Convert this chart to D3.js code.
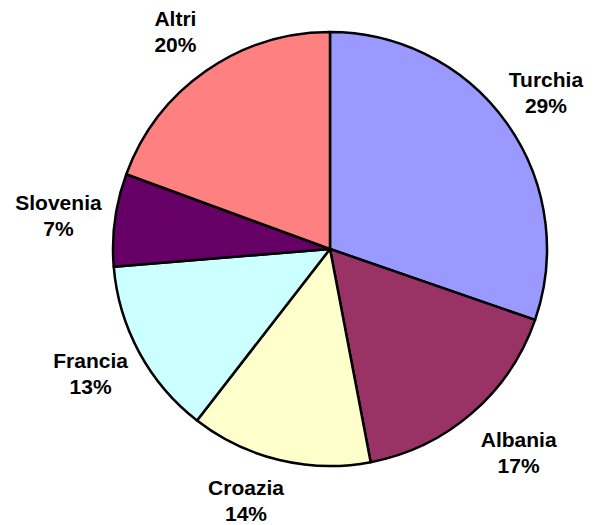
<!DOCTYPE html>
<html>
<head>
<meta charset="utf-8">
<script src="https://cdn.jsdelivr.net/npm/d3@7"></script>
<style>
  body { margin: 0; background: #fff; }
  text { font-family: "Liberation Sans", Arial, sans-serif; font-weight: bold; font-size: 21px; fill: #000; }
</style>
</head>
<body>
<svg id="chart" width="597" height="525"></svg>
<script>
// slices, clockwise from 12 o'clock
var countries = ["Turchia", "Albania", "Croazia", "Francia", "Slovenia", "Altri"];
// shares as measured from the slice angles in the picture
var shares = [30.3, 16.7, 13.5, 13.2, 6.9, 19.4];
// percentages printed on the labels
var pctLabels = ["29%", "17%", "14%", "13%", "7%", "20%"];
var colors = ["#9999ff", "#993366", "#ffffcc", "#ccffff", "#660066", "#ff8080"];

var chart = {};
chart.center = {x: 330, y: 249};
chart.radius = 217;
chart.labelRadius = 270;
// small hand nudges so labels sit where excel put them
chart.nudge = {Turchia: [-4, 0], Albania: [12, -1], Croazia: [-21, -11], Francia: [-2, -4], Slovenia: [-4, 3], Altri: [0, 4]};

function setup() {
    var rows = d3.map(countries, (d, i) => ({name: d, value: shares[i], pct: pctLabels[i], color: colors[i]}));

    var pie = d3.pie().sort(null).value(d => d.value);
    var arcs = pie(rows);

    var arc = d3.arc().innerRadius(0).outerRadius(chart.radius);
    var labelArc = d3.arc().innerRadius(chart.labelRadius).outerRadius(chart.labelRadius);

    var svg = d3.select("#chart")
                .append("g")
                .attr("transform", "translate(" + chart.center.x + "," + chart.center.y + ")");

    svg.selectAll("path")
       .data(arcs)
       .join("path")
       .attr("d", arc)
       .attr("fill", d => d.data.color)
       .attr("stroke", "#000")
       .attr("stroke-width", 2.5)
       .attr("stroke-linejoin", "round");

    var label = svg.selectAll("text")
       .data(arcs)
       .join("text")
       .attr("text-anchor", "middle")
       .attr("transform", d => {
           var c = labelArc.centroid(d), n = chart.nudge[d.data.name];
           return "translate(" + (c[0] + n[0]) + "," + (c[1] + n[1]) + ")";
       });

    label.append("tspan")
         .attr("x", 0)
         .attr("y", -5.5)
         .text(d => d.data.name);
    label.append("tspan")
         .attr("x", 0)
         .attr("y", 20.5)
         .text(d => d.data.pct);
}

window.addEventListener('load', setup)
</script>
</body>
</html>
